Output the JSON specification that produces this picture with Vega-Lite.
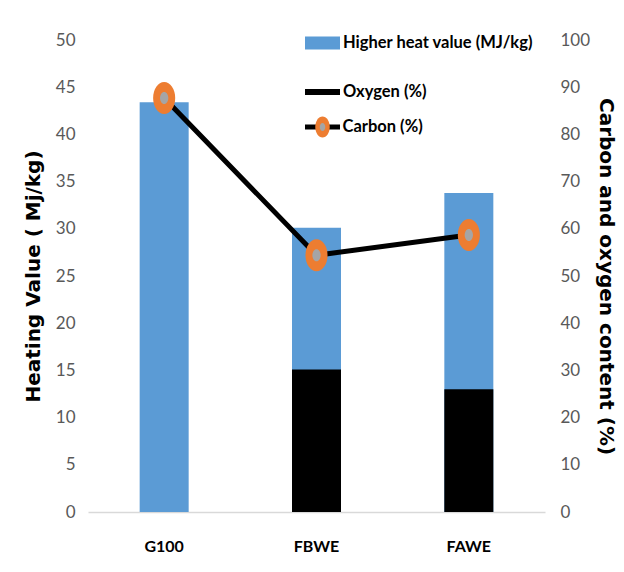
{
  "$schema": "https://vega.github.io/schema/vega-lite/v6.json",
  "width": 457,
  "height": 472,
  "autosize": {"type": "none"},
  "padding": {"left": 88, "top": 40, "right": 79, "bottom": 60},
  "background": "white",
  "config": {"view": {"stroke": null}, "axis": {"grid": false}},
  "data": {
    "values": [
      {"sample": "G100", "hhv": 43.4, "oxygen": null, "carbon": 87.7},
      {"sample": "FBWE", "hhv": 30.1, "oxygen": 30.2, "carbon": 54.4},
      {"sample": "FAWE", "hhv": 33.8, "oxygen": 26.0, "carbon": 58.7}
    ]
  },
  "encoding": {
    "x": {
      "field": "sample", "type": "nominal", "sort": null,
      "scale": {"paddingInner": 0.3, "paddingOuter": 0.15},
      "axis": {"title": null, "labelAngle": 0, "domainColor": "#d9d9d9", "domainWidth": 1.5, "ticks": false, "labelPadding": 26, "labelFont": "Lato", "labelFontWeight": "bold", "labelFontSize": 16, "labelColor": "#000000"}
    }
  },
  "layer": [
    {
      "mark": {"type": "bar", "size": 49},
      "encoding": {
        "y": {
          "field": "hhv", "type": "quantitative",
          "scale": {"domain": [0, 50], "nice": false},
          "title": "Heating Value ( Mj/kg)",
          "axis": {"orient": "left", "values": [0, 5, 10, 15, 20, 25, 30, 35, 40, 45, 50], "domain": false, "ticks": false, "grid": false, "labelPadding": 13, "labelFont": "Lato", "labelFontSize": 17, "labelColor": "#595959", "titleFont": "DejaVu Sans", "titleFontWeight": "bold", "titleFontSize": 20, "titleColor": "#000000", "titlePadding": 12}
        },
        "color": {
          "datum": "Higher heat value (MJ/kg)",
          "scale": {"domain": ["Higher heat value (MJ/kg)", "Oxygen (%)"], "range": ["#5B9BD5", "#000000"]},
          "legend": {
            "orient": "none", "legendX": 217, "legendY": -14.5, "title": null, "padding": 0,
            "symbolSize": 1225, "symbolType": "M-1,-0.37H1V0.37H-1Z", "symbolStrokeWidth": 0, "symbolOpacity": 1,
            "labelFont": "Lato", "labelFontWeight": "bold", "labelFontSize": 16.5, "labelColor": "#000000", "labelOffset": 3, "rowPadding": 23, "labelLimit": 400,
            "encode": {"symbols": {"update": {"shape": {"signal": "datum.value === 'Oxygen (%)' ? 'M-1,-0.17H1V0.17H-1Z' : 'M-1,-0.37H1V0.37H-1Z'"}}}}
          }
        }
      }
    },
    {
      "layer": [
        {
          "mark": {"type": "bar", "size": 49},
          "encoding": {
            "y": {
              "field": "oxygen", "type": "quantitative",
              "scale": {"domain": [0, 100], "nice": false},
              "title": "Carbon and oxygen content (%)",
              "axis": {"orient": "right", "values": [0, 10, 20, 30, 40, 50, 60, 70, 80, 90, 100], "domain": false, "ticks": false, "grid": false, "labelPadding": 15, "labelFont": "Lato", "labelFontSize": 17, "labelColor": "#595959", "titleFont": "DejaVu Sans", "titleFontWeight": "bold", "titleFontSize": 20, "titleColor": "#000000", "titlePadding": 6}
            },
            "color": {"datum": "Oxygen (%)"}
          }
        },
        {
          "mark": {"type": "line", "strokeWidth": 5},
          "encoding": {
            "y": {
              "field": "carbon", "type": "quantitative",
              "scale": {"domain": [0, 100], "nice": false},
              "title": "Carbon and oxygen content (%)",
              "axis": {"orient": "right", "values": [0, 10, 20, 30, 40, 50, 60, 70, 80, 90, 100], "domain": false, "ticks": false, "grid": false, "labelPadding": 15, "labelFont": "Lato", "labelFontSize": 17, "labelColor": "#595959", "titleFont": "DejaVu Sans", "titleFontWeight": "bold", "titleFontSize": 20, "titleColor": "#000000", "titlePadding": 6}
            },
            "stroke": {
              "datum": "Carbon (%)",
              "scale": {"range": ["#000000"]},
              "legend": {
                "orient": "none", "legendX": 214.5, "legendY": 67, "title": null, "padding": 0,
                "symbolType": "stroke", "symbolSize": 1225, "symbolStrokeWidth": 5, "symbolStrokeColor": "#000000",
                "labelFont": "Lato", "labelFontWeight": "bold", "labelFontSize": 16.5, "labelColor": "#000000", "labelOffset": 0, "labelLimit": 400
              }
            }
          }
        },
        {
          "mark": {"type": "point", "filled": true, "shape": "M0,-1A0.69,1 0 1,1 0,1A0.69,1 0 1,1 0,-1Z", "size": 1024, "opacity": 1},
          "encoding": {
            "y": {
              "field": "carbon", "type": "quantitative",
              "scale": {"domain": [0, 100], "nice": false},
              "title": "Carbon and oxygen content (%)",
              "axis": {"orient": "right", "values": [0, 10, 20, 30, 40, 50, 60, 70, 80, 90, 100], "domain": false, "ticks": false, "grid": false, "labelPadding": 15, "labelFont": "Lato", "labelFontSize": 17, "labelColor": "#595959", "titleFont": "DejaVu Sans", "titleFontWeight": "bold", "titleFontSize": 20, "titleColor": "#000000", "titlePadding": 6}
            },
            "fill": {
              "datum": "Carbon marker",
              "scale": {"range": ["#ED7D31"]},
              "legend": {
                "orient": "none", "legendX": 224, "legendY": 76.5, "title": null, "padding": 0,
                "symbolType": "M0,-1A0.69,1 0 1,1 0,1A0.69,1 0 1,1 0,-1Z", "symbolSize": 441, "symbolStrokeWidth": 0, "symbolOpacity": 1,
                "labelFontSize": 1, "labelOpacity": 0
              }
            }
          }
        },
        {
          "mark": {"type": "point", "filled": true, "size": 144, "color": "#A5A5A5", "opacity": 1},
          "encoding": {
            "y": {
              "field": "carbon", "type": "quantitative",
              "scale": {"domain": [0, 100], "nice": false},
              "title": "Carbon and oxygen content (%)",
              "axis": {"orient": "right", "values": [0, 10, 20, 30, 40, 50, 60, 70, 80, 90, 100], "domain": false, "ticks": false, "grid": false, "labelPadding": 15, "labelFont": "Lato", "labelFontSize": 17, "labelColor": "#595959", "titleFont": "DejaVu Sans", "titleFontWeight": "bold", "titleFontSize": 20, "titleColor": "#000000", "titlePadding": 6}
            },
            "shape": {
              "datum": "Carbon centre",
              "scale": {"range": ["M0,-1A0.69,1 0 1,1 0,1A0.69,1 0 1,1 0,-1Z"]},
              "legend": {
                "orient": "none", "legendX": 230.5, "legendY": 83, "title": null, "padding": 0,
                "symbolSize": 64, "symbolFillColor": "#A5A5A5", "symbolStrokeColor": "#A5A5A5", "symbolStrokeWidth": 0, "symbolOpacity": 1,
                "labelFontSize": 1, "labelOpacity": 0
              }
            }
          }
        }
      ]
    }
  ],
  "resolve": {"scale": {"y": "independent"}}
}
